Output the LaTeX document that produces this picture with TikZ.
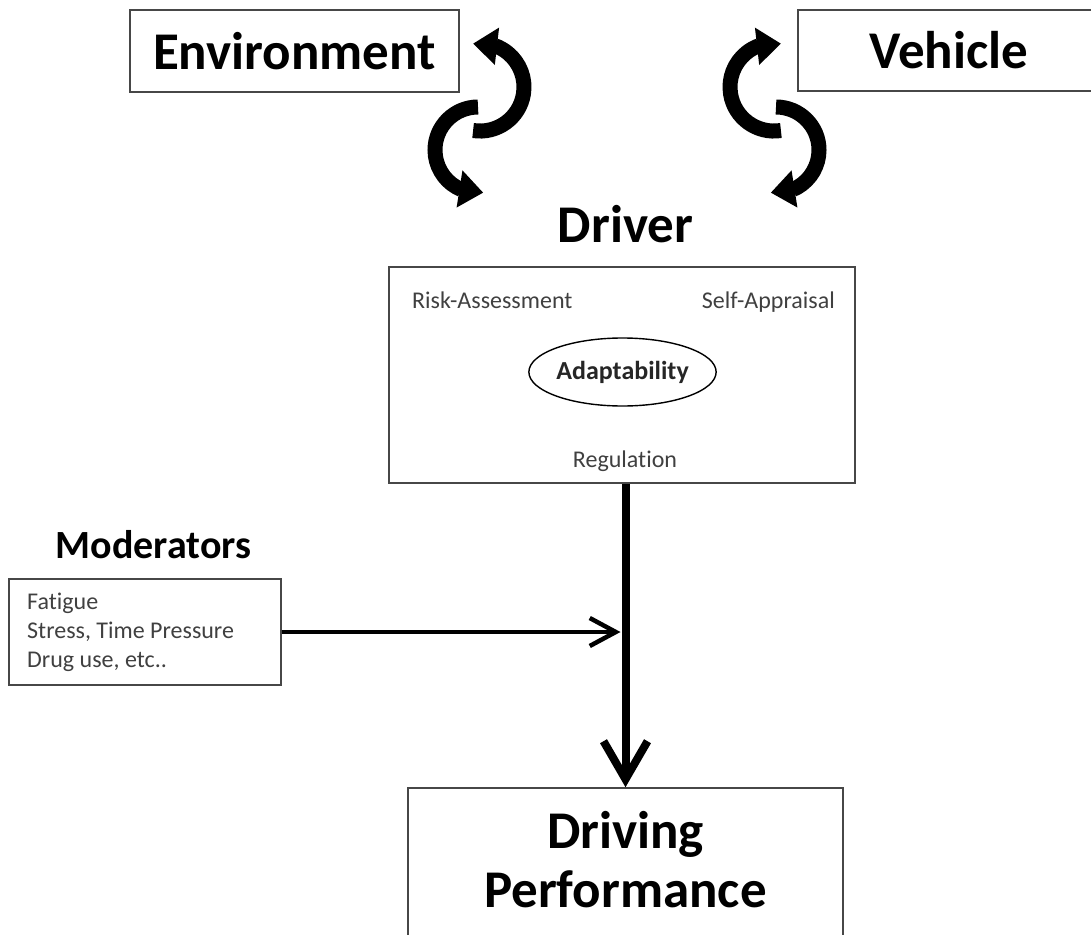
\documentclass[tikz,border=0pt]{standalone}
\usepackage{fontspec}
\setmainfont{Carlito}[Ligatures=NoCommon]
\usetikzlibrary{arrows.meta,bending,shapes.geometric}

\tikzset{
  framebox/.style={draw=black!72, line width=1.6pt, inner sep=0pt},
  bigtext/.style={font=\bfseries\fontsize{53}{59}\selectfont, text=black},
  midtext/.style={font=\bfseries\fontsize{40}{46}\selectfont, text=black},
  smalltext/.style={font=\fontsize{24}{29}\selectfont, text=black!75, inner sep=0pt},
  cyclearrow/.style={line width=15pt, -{Triangle[length=24pt,width=36pt]}},
  mainflow/.style={line width=8pt, -{Straight Barb[length=38pt,width=44pt]}},
  sideflow/.style={line width=4.5pt, -{Straight Barb[length=26pt,width=28pt]}}
}

\begin{document}
\begin{tikzpicture}[x=1pt, y=-1pt]
  \useasboundingbox (0,0) rectangle (1091,934);

  % top inputs
  \node[framebox, bigtext, minimum width=329pt, minimum height=82pt] (env) at (294.5,51) {Environment};
  \node[framebox, bigtext, minimum width=302pt, minimum height=81pt] (veh) at (949,50.5) {Vehicle};

  % exchange arrows, left pair
  \draw[cyclearrow] (473.1,130.5) arc[start angle=99, end angle=-99, radius=44];
  \draw[cyclearrow] (478,107) arc[start angle=-90, end angle=-277, radius=43];
  % exchange arrows, right pair
  \draw[cyclearrow] (780.9,130.5) arc[start angle=81, end angle=279, radius=44];
  \draw[cyclearrow] (776,107) arc[start angle=-90, end angle=97, radius=43];

  % driver
  \node[bigtext, anchor=base] (drvlabel) at (625.5,242) {Driver};
  \node[framebox, minimum width=466pt, minimum height=216pt] (drv) at (622,375) {};
  \node[smalltext, anchor=base west] (risk) at (412,308) {Risk-Assessment};
  \node[smalltext, anchor=base east] (self) at (835,308) {Self-Appraisal};
  \node[smalltext, anchor=base] (reg) at (625,467) {Regulation};
  \node[ellipse, draw=black, line width=1.4pt, minimum width=179pt, minimum height=68pt,
        inner sep=0pt, font=\bfseries\fontsize{26}{30}\selectfont, text=black!85] (adapt) at (622.5,372) {Adaptability};

  % moderators
  \node[midtext, anchor=base] (modlabel) at (153.5,558) {Moderators};
  \node[framebox, minimum width=272pt, minimum height=106pt] (mod) at (145,632) {};
  \node[smalltext, anchor=west, align=left] (modlist) at (27,632) {Fatigue\\Stress, Time Pressure\\Drug use, etc..};

  % outcome
  \node[framebox, minimum width=435pt, minimum height=170pt] (perf) at (625.5,873) {};
  \node[bigtext, anchor=base] (perf1) at (625.5,848) {Driving};
  \node[bigtext, anchor=base] (perf2) at (625.5,907) {Performance};

  % flows
  \draw[mainflow] (drv.south -| perf.north) -- (perf.north);
  \coordinate (join) at ([xshift=-5pt]mod.east -| perf.north);
  \draw[sideflow] (mod.east) -- (join);
\end{tikzpicture}
\end{document}
